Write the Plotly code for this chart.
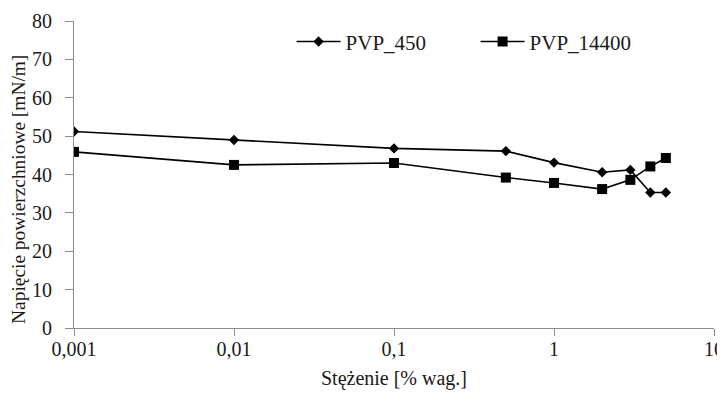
import plotly.graph_objects as go

conc = [0.001, 0.01, 0.1, 0.5, 1, 2, 3, 4, 5]
pvp_450 = [51.2, 49.0, 46.8, 46.1, 43.1, 40.6, 41.2, 35.3, 35.3]
pvp_14400 = [45.9, 42.5, 43.0, 39.2, 37.8, 36.2, 38.6, 42.1, 44.3]
x_tickvals = [0.001, 0.01, 0.1, 1, 10]
x_ticktext = ["0,001", "0,01", "0,1", "1", "10"]
y_tickvals = [0, 10, 20, 30, 40, 50, 60, 70, 80]
x_title = "Stężenie [% wag.]"
y_title = "Napięcie powierzchniowe [mN/m]"

font_family = "Liberation Serif, Times New Roman, serif"
txt = "#1a1a1a"

fig = go.Figure()
fig.add_trace(go.Scatter(
    x=conc, y=pvp_450, name="PVP_450", mode="lines+markers",
    line=dict(color="black", width=1.6),
    marker=dict(symbol="diamond", size=8, color="black"),
))
fig.add_trace(go.Scatter(
    x=conc, y=pvp_14400, name="PVP_14400", mode="lines+markers",
    line=dict(color="black", width=1.6),
    marker=dict(symbol="square", size=10, color="black"),
))

fig.add_annotation(
    text=y_title, textangle=-90, xref="paper", yref="paper",
    x=-0.086, y=0.453, xanchor="center", yanchor="middle", showarrow=False,
    font=dict(family=font_family, size=19.4, color=txt),
)

fig.update_layout(
    width=717, height=385,
    margin=dict(l=66, r=11, t=13, b=65),
    paper_bgcolor="white", plot_bgcolor="white",
    font=dict(family=font_family, size=20, color=txt),
    showlegend=True,
    legend=dict(orientation="h", x=0.34, y=0.932, xanchor="left", yanchor="middle",
                font=dict(family=font_family, size=21, color=txt),
                bgcolor="rgba(0,0,0,0)", itemwidth=44,
                entrywidth=125, entrywidthmode="pixels"),
    xaxis=dict(type="log", range=[-3, 1], tickvals=x_tickvals, ticktext=x_ticktext,
               showgrid=False, zeroline=False, showline=True, linecolor="#8c8c8c", linewidth=1,
               ticks="outside", ticklen=7, tickcolor="#8c8c8c", automargin=False,
               ticklabelstandoff=-4,
               title=dict(text=x_title, font=dict(size=20, family=font_family, color=txt), standoff=11),
               tickfont=dict(size=20, family=font_family, color=txt)),
    yaxis=dict(range=[0, 80], tickvals=y_tickvals,
               showgrid=False, zeroline=False, showline=True, linecolor="#8c8c8c", linewidth=1,
               ticks="outside", ticklen=8, tickcolor="#8c8c8c", automargin=False,
               ticklabelstandoff=9,
               tickfont=dict(size=20, family=font_family, color=txt)),
)

fig.write_html("out.html")
